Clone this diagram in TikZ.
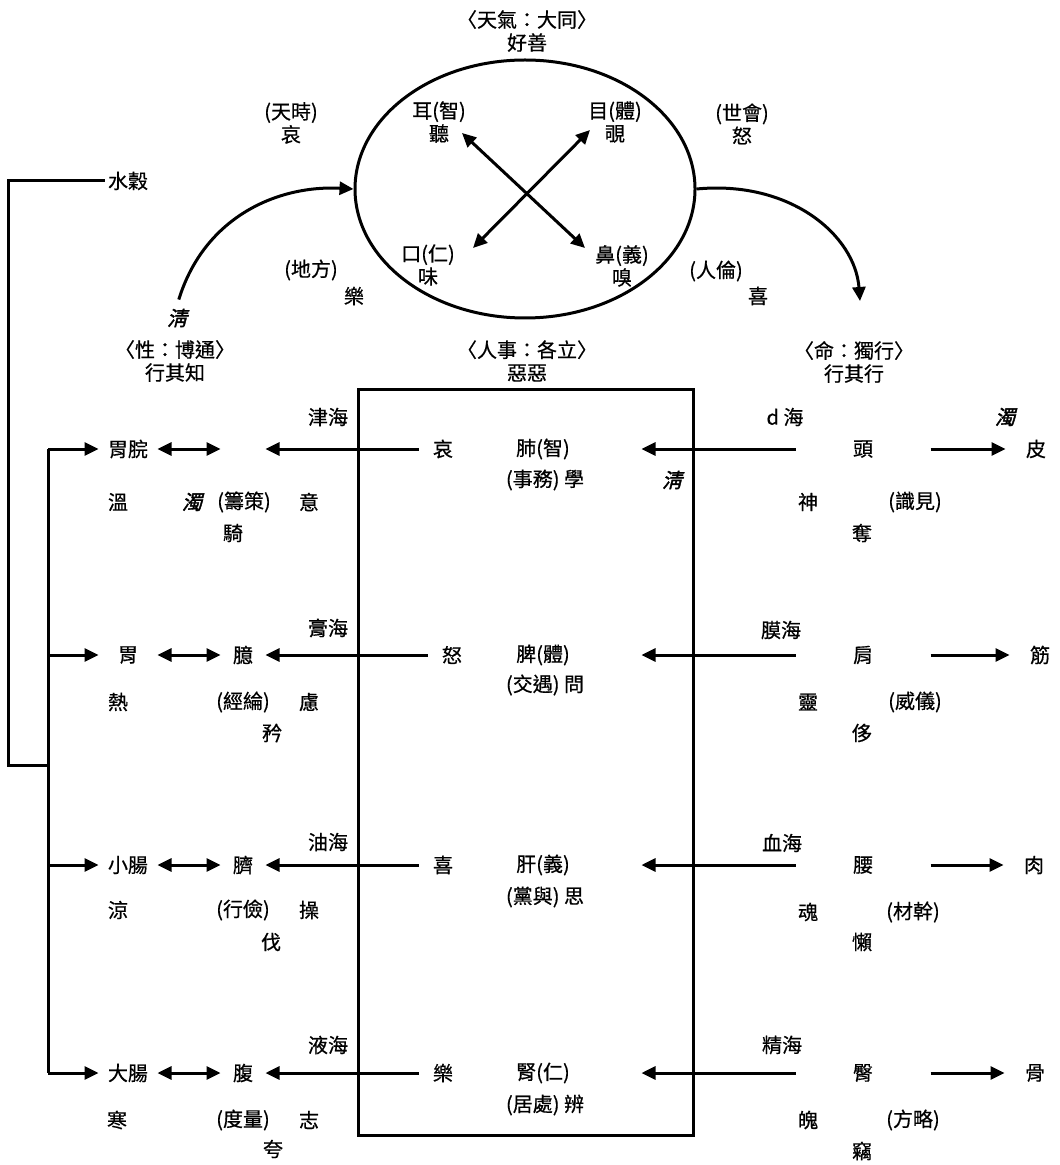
\documentclass[tikz,border=0pt]{standalone}
\usepackage{fontspec}
\setmainfont{Noto Sans CJK TC}[FakeBold=0.6]
\newfontfamily\tiltcjk{Noto Sans CJK TC}[FakeSlant=0.25,FakeBold=1.8]
\usetikzlibrary{arrows.meta,shapes.geometric}

\tikzset{
  txt/.style={inner sep=1pt, align=center, font=\fontsize{10}{11.5}\selectfont},
  tilt/.style={txt, font={\fontsize{10}{11.5}\selectfont\tiltcjk}},
  lorg/.style={txt, minimum width=28pt},
  mid/.style={txt, minimum width=21pt},
  emo/.style={txt, minimum width=23pt},
  inorg/.style={txt, minimum width=97pt},
  head/.style={txt, minimum width=66pt},
  tis/.style={txt, minimum width=29pt}
}

\begin{document}
\begin{tikzpicture}[x=0.5pt,y=-0.5pt,line width=1.5pt,>={Triangle[length=7pt,width=6.5pt]}]
\useasboundingbox (0,0) rectangle (1059,1165);

% Heaven: ellipse with the four senses
\node[txt] (tianqi) at (527,31) {〈天氣：大同〉\\好善};
\node[draw,ellipse,minimum width=170pt,minimum height=129pt,inner sep=0pt] (sky) at (525,189) {};
\node[txt] (ear) at (439,122) {耳(智)\\聽};
\node[txt] (eye) at (615,122) {目(體)\\覗};
\node[txt] (mouth) at (428,265) {口(仁)\\味};
\node[txt] (nose) at (622,266) {鼻(義)\\嗅};
\coordinate (ear-tip) at (462,133);
\coordinate (eye-tip) at (590,130);
\coordinate (mouth-tip) at (473,248);
\coordinate (nose-tip) at (585,248);
\draw[<->] (ear-tip) -- (nose-tip);
\draw[<->] (eye-tip) -- (mouth-tip);

% labels round the ellipse
\node[txt] (tianshi) at (291,123) {(天時)\\哀};
\node[txt] (shihui) at (742,124) {(世會)\\怒};
\node[txt] (difang) at (311,270) {(地方)};
\node[txt] (le0) at (354,296) {樂};
\node[txt] (renlun) at (716,271) {(人倫)};
\node[txt] (xi0) at (758,296) {喜};

% the two curved arrows
\node[tilt] (qing) at (177,318) {淸};
\draw[->,shorten <=3pt] (qing.north) .. controls (205,215) and (280,185) .. (sky.west);
\coordinate (ming-tip) at (860,301);
\draw[->] (sky.east) .. controls (790,180) and (855,235) .. (ming-tip);

% headings
\node[txt] (xing) at (175,361) {〈性：博通〉\\行其知};
\node[txt] (renshi) at (527,361) {〈人事：各立〉\\惡惡};
\node[txt] (ming) at (854,362) {〈命：獨行〉\\行其行};

% box of the four organs
\draw (358,390) rectangle (693,1135);

% water and grain
\node[txt] (grain) at (128,181) {水穀};
\draw (grain.west) -- (8,181) -- (8,765) -- (48,765);
\draw (48,449) -- (48,1073);
\coordinate (sp1) at (48,449);
\coordinate (sp2) at (48,655);
\coordinate (sp3) at (48,865);
\coordinate (sp4) at (48,1073);

% Row 1
\node[lorg] (wan) at (128,449) {胃脘};
\node[mid] (jaw) at (243,449) {};
\node[txt] (jinhai) at (328,417) {津海};
\node[emo] (ai) at (443,449) {哀};
\node[inorg] (fei) at (543,449) {肺(智)};
\node[txt] (fei2) at (545,480) {(事務) 學};
\node[tilt] (qing2) at (672,480) {淸};
\node[txt] (nihai) at (785,417) {d 海};
\node[head] (tou) at (863,449) {頭};
\node[tilt] (zhuo1) at (1005,417) {濁};
\node[tis] (pi) at (1036,449) {皮};
\draw[->] (sp1) -- (wan.west);
\draw[<->] (wan.east) -- (jaw.west);
\draw[->] (ai.west) -- (jaw.east);
\draw[->] (tou.west) -- (fei.east);
\draw[->] (tou.east) -- (pi.west);
\node[txt] (wen) at (118,502) {溫};
\node[tilt] (zhuo2) at (192,502) {濁};
\node[txt] (chouce) at (244,502) {(籌策)};
\node[txt] (yi1) at (309,502) {意};
\node[txt] (jiao) at (233,533) {騎};
\node[txt] (shen1) at (808,502) {神};
\node[txt] (shijian) at (915,502) {(識見)};
\node[txt] (duo) at (862,533) {奪};

% Row 2
\node[lorg] (wei) at (128,655) {胃};
\node[mid] (yi) at (243,655) {臆};
\node[txt] (gaohai) at (328,628) {膏海};
\node[emo] (nu) at (452,655) {怒};
\node[inorg] (pi1) at (543,655) {脾(體)};
\node[txt] (pi2) at (545,685) {(交遇) 問};
\node[txt] (mohai) at (781,630) {膜海};
\node[head] (jian) at (863,655) {肩};
\node[tis] (jin) at (1040,655) {筋};
\draw[->] (sp2) -- (wei.west);
\draw[<->] (wei.east) -- (yi.west);
\draw[->] (nu.west) -- (yi.east);
\draw[->] (jian.west) -- (pi1.east);
\draw[->] (jian.east) -- (jin.west);
\node[txt] (re) at (118,702) {熱};
\node[txt] (jinglun) at (243,702) {(經綸)};
\node[txt] (lv) at (309,702) {慮};
\node[txt] (jin2) at (272,733) {矜};
\node[txt] (ling) at (808,702) {靈};
\node[txt] (weiyi) at (915,702) {(威儀)};
\node[txt] (chi) at (862,733) {侈};

% Row 3
\node[lorg] (xiao) at (128,865) {小腸};
\node[mid] (qi) at (243,865) {臍};
\node[txt] (youhai) at (328,842) {油海};
\node[emo] (xi) at (443,865) {喜};
\node[inorg] (gan) at (543,865) {肝(義)};
\node[txt] (gan2) at (545,897) {(黨與) 思};
\node[txt] (xuehai) at (782,843) {血海};
\node[head] (yao) at (863,865) {腰};
\node[tis] (rou) at (1034,865) {肉};
\draw[->] (sp3) -- (xiao.west);
\draw[<->] (xiao.east) -- (qi.west);
\draw[->] (xi.west) -- (qi.east);
\draw[->] (yao.west) -- (gan.east);
\draw[->] (yao.east) -- (rou.west);
\node[txt] (liang) at (118,910) {涼};
\node[txt] (xingjian) at (243,910) {(行儉)};
\node[txt] (cao) at (309,910) {操};
\node[txt] (fa) at (271,942) {伐};
\node[txt] (hun) at (808,912) {魂};
\node[txt] (caigan) at (913,912) {(材幹)};
\node[txt] (lan) at (862,942) {懶};

% Row 4
\node[lorg] (da) at (128,1073) {大腸};
\node[mid] (fu) at (243,1073) {腹};
\node[txt] (yehai) at (328,1045) {液海};
\node[emo] (le) at (443,1073) {樂};
\node[inorg] (shen) at (543,1073) {腎(仁)};
\node[txt] (shen2) at (545,1105) {(居處) 辨};
\node[txt] (jinghai) at (782,1045) {精海};
\node[head] (tun) at (863,1073) {臀};
\node[tis] (gu) at (1035,1073) {骨};
\draw[->] (sp4) -- (da.west);
\draw[<->] (da.east) -- (fu.west);
\draw[->] (le.west) -- (fu.east);
\draw[->] (tun.west) -- (shen.east);
\draw[->] (tun.east) -- (gu.west);
\node[txt] (han) at (117,1120) {寒};
\node[txt] (duliang) at (243,1120) {(度量)};
\node[txt] (zhi) at (309,1120) {志};
\node[txt] (kua) at (273,1149) {夸};
\node[txt] (po) at (808,1120) {魄};
\node[txt] (fanglue) at (913,1120) {(方略)};
\node[txt] (qie) at (862,1151) {竊};
\end{tikzpicture}
\end{document}
